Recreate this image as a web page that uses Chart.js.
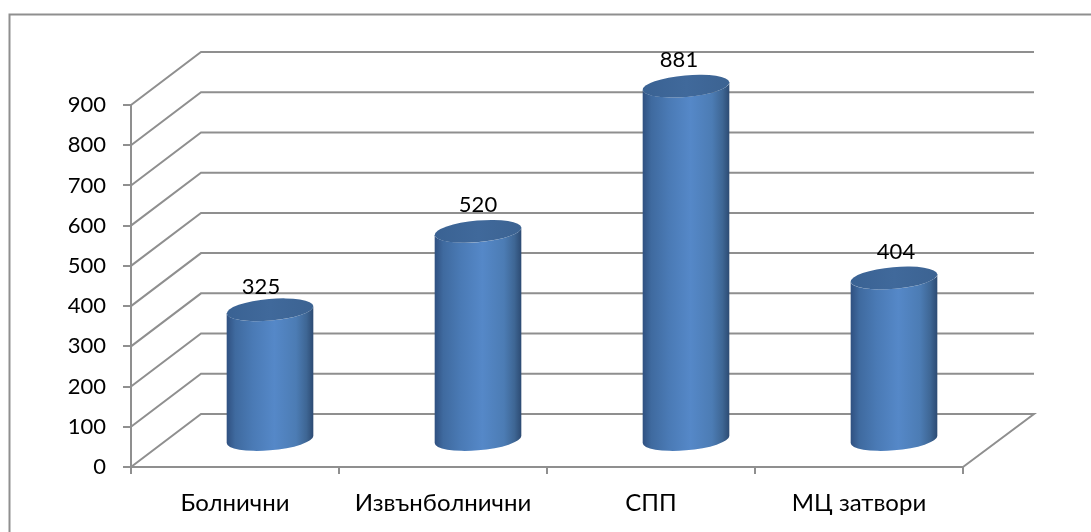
<!DOCTYPE html>
<html>
<head>
<meta charset="utf-8">
<style>html,body{margin:0;padding:0;background:#fff}canvas{display:block}</style>
<script src="https://cdn.jsdelivr.net/npm/chart.js@4"></script>
</head>
<body>
<canvas id="c" width="1091" height="532"></canvas>
<script>
const categories = ['Болнични', 'Извънболнични', 'СПП', 'МЦ затвори'];
const values = [325, 520, 881, 404];
const labelShiftX = [-9, 0, -7, 2];
const labelShiftY = [3, 0, 0, 0];

const FONT = 'Lato, "Open Sans", sans-serif';
const FONT_SIZE = 22;
const CAT_FONT_SIZE = 24;
const AXIS = '#8f8f8f';
const LINE = 2;
const DX = 70, DY = -53;

function cylinder(ctx, cx, top, bottom, w) {
  const a = w / 2, b = 10.8, r = -5 * Math.PI / 180;
  const tR = Math.atan(-(b / a) * Math.tan(r)), tL = tR + Math.PI;
  const g = ctx.createLinearGradient(cx - a, 0, cx + a, 0);
  g.addColorStop(0, '#2f5080');
  g.addColorStop(0.1, '#3f6a9f');
  g.addColorStop(0.3, '#4a7ab5');
  g.addColorStop(0.55, '#5588c8');
  g.addColorStop(0.8, '#4c7cb4');
  g.addColorStop(0.92, '#3e6694');
  g.addColorStop(1, '#2c4a72');
  ctx.beginPath();
  ctx.ellipse(cx, bottom, a, b, r, tR, tL, false);
  ctx.ellipse(cx, top, a, b, r, tL, tR, true);
  ctx.closePath();
  ctx.fillStyle = g;
  ctx.fill();
  const t = ctx.createLinearGradient(cx - a, 0, cx + a, 0);
  t.addColorStop(0, '#3a6293');
  t.addColorStop(0.5, '#40699b');
  t.addColorStop(1, '#3c6392');
  ctx.beginPath();
  ctx.ellipse(cx, top, a, b, r, 0, Math.PI * 2);
  ctx.fillStyle = t;
  ctx.fill();
}

const depthPlugin = {
  id: 'depth',
  beforeDraw(chart) {
    const c = chart.ctx;
    c.save();
    c.strokeStyle = AXIS;
    c.lineWidth = 2;
    c.beginPath();
    c.moveTo(1091, 14.5);
    c.lineTo(9.5, 14.5);
    c.lineTo(9.5, 532);
    c.stroke();
    c.restore();
  },
  beforeDatasetsDraw(chart) {
    const c = chart.ctx, { left, right } = chart.chartArea, y = chart.scales.y;
    c.save();
    c.strokeStyle = AXIS;
    c.lineWidth = LINE;
    c.lineJoin = 'miter';
    y.ticks.forEach(t => {
      const p = y.getPixelForValue(t.value);
      c.beginPath();
      c.moveTo(left, p);
      c.lineTo(left + DX, p + DY);
      c.lineTo(right + DX + 1, p + DY);
      if (t.value === 0) c.lineTo(right, p);
      c.stroke();
    });
    c.restore();
  },
  beforeDatasetDraw(chart, args) {
    const c = chart.ctx;
    chart.getDatasetMeta(args.index).data.forEach(el => {
      cylinder(c, el.x + DX / 2, el.y + DY / 2, el.base + DY / 2, el.width);
    });
    return false;
  },
  afterDatasetsDraw(chart) {
    const c = chart.ctx;
    c.save();
    c.font = FONT_SIZE + 'px ' + FONT;
    c.fillStyle = '#000';
    c.textAlign = 'center';
    c.textBaseline = 'middle';
    chart.getDatasetMeta(0).data.forEach((el, i) => {
      c.fillText(String(values[i]), el.x + DX / 2 + labelShiftX[i], el.y + DY / 2 - 26 + labelShiftY[i]);
    });
    c.restore();
  }
};

new Chart(document.getElementById('c'), {
  type: 'bar',
  data: {
    labels: categories,
    datasets: [{ data: values, backgroundColor: '#4f81bd', barPercentage: 1, categoryPercentage: 0.418 }]
  },
  plugins: [depthPlugin],
  options: {
    responsive: false,
    animation: false,
    devicePixelRatio: 1,
    layout: { padding: { left: 0, top: 105, right: 128, bottom: 0 } },
    plugins: { legend: { display: false }, tooltip: { enabled: false }, title: { display: false } },
    scales: {
      x: {
        afterFit(s) { s.height = 65; },
        grid: { offset: true, drawOnChartArea: false, drawTicks: true, tickLength: 7, color: AXIS, lineWidth: LINE },
        border: { color: AXIS, width: LINE },
        ticks: { color: '#000', font: { family: FONT, size: CAT_FONT_SIZE }, padding: 15, maxRotation: 0, autoSkip: false }
      },
      y: {
        min: 0, max: 900,
        afterFit(s) { s.width = 131; },
        grid: { drawOnChartArea: false, drawTicks: true, tickLength: 8, color: AXIS, lineWidth: LINE },
        border: { color: AXIS, width: LINE },
        ticks: { stepSize: 100, color: '#000', font: { family: FONT, size: FONT_SIZE }, padding: 17 }
      }
    }
  }
});
</script>
</body>
</html>
